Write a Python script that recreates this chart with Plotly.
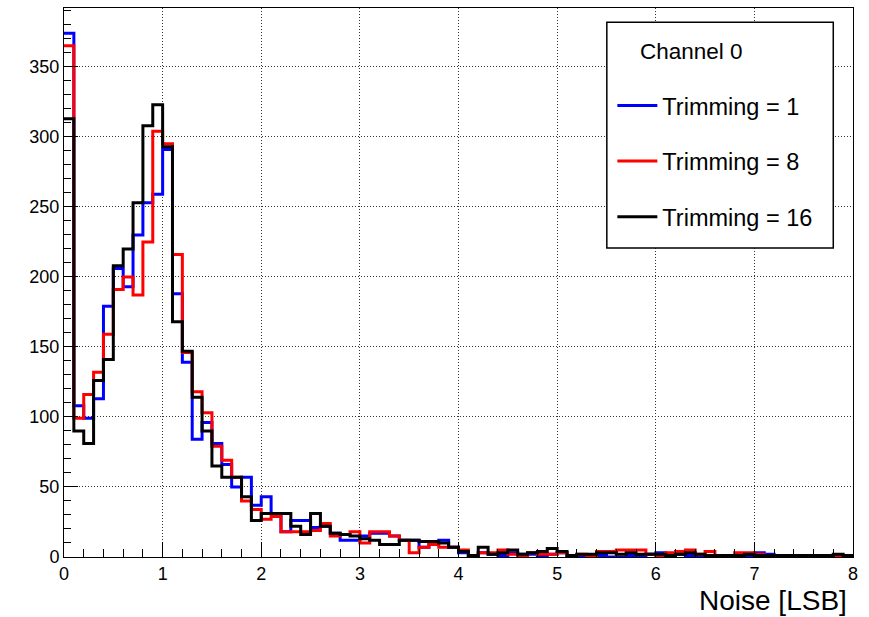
import plotly.graph_objects as go

# ---------------- data ----------------
BIN_WIDTH = 0.1
N_BINS = 80
bin_edges = [round(i * BIN_WIDTH, 2) for i in range(N_BINS + 1)]

trim1 = [374, 108, 99, 113, 179, 206, 193, 230, 253, 259,
         291, 188, 139, 84, 96, 81, 66, 50, 57, 37,
         43, 31, 18, 26, 26, 21, 22, 17, 12, 12,
         15, 17, 17, 15, 12, 12, 7, 10, 12, 7,
         3, 1, 3, 2, 1, 3, 2, 2, 1, 2,
         3, 1, 1, 0, 1, 0, 0, 1, 1, 2,
         3, 1, 2, 1, 0, 0, 0, 1, 1, 1,
         3, 2, 1, 1, 1, 0, 1, 1, 0, 0]

trim8 = [365, 99, 116, 132, 159, 191, 200, 187, 225, 304,
         295, 216, 146, 118, 103, 79, 69, 57, 40, 34,
         27, 29, 18, 18, 18, 19, 24, 15, 16, 18,
         10, 18, 18, 15, 12, 3, 7, 9, 7, 7,
         5, 1, 3, 3, 5, 2, 1, 3, 2, 2,
         3, 1, 2, 1, 4, 4, 5, 5, 5, 2,
         1, 3, 4, 5, 2, 4, 1, 0, 3, 3,
         2, 0, 1, 0, 1, 0, 0, 1, 1, 0]

trim16 = [313, 90, 81, 126, 141, 208, 220, 253, 308, 323,
          293, 168, 147, 114, 90, 65, 57, 57, 43, 26,
          31, 31, 31, 22, 16, 31, 22, 17, 16, 15,
          13, 12, 9, 9, 12, 12, 11, 11, 10, 7,
          4, 1, 7, 2, 3, 5, 2, 3, 4, 6,
          4, 1, 2, 2, 3, 3, 2, 3, 2, 2,
          2, 1, 2, 3, 2, 1, 1, 1, 1, 2,
          1, 1, 1, 1, 1, 1, 1, 1, 2, 1]

series_names = ["Trimming = 1", "Trimming = 8", "Trimming = 16"]
series_values = [trim1, trim8, trim16]
series_colors = ["#0000ff", "#ff0000", "#000000"]

x_ticks = [0, 1, 2, 3, 4, 5, 6, 7, 8]
y_ticks = [0, 50, 100, 150, 200, 250, 300, 350]
legend_title = "Channel 0"
x_title = "Noise [LSB]"

FONT = "Liberation Sans, Arial, Helvetica, sans-serif"

fig = go.Figure()
for name, vals, col in zip(series_names, series_values, series_colors):
    fig.add_trace(go.Scatter(
        x=bin_edges,
        y=vals + [vals[-1]],
        mode="lines",
        line=dict(color=col, width=3, shape="hv"),
        name=name,
        legendgroup=name,
    ))

axis_common = dict(
    showline=True, linecolor="#000000", linewidth=1, mirror=True,
    ticks="inside", tickcolor="#000000",
    showgrid=True, gridcolor="#333333", griddash="1px,2px", gridwidth=1,
    zeroline=False,
    tickfont=dict(family=FONT, size=18, color="#000000"),
)

fig.update_xaxes(
    range=[0, 8], tickvals=x_ticks, ticklen=15,
    minor=dict(dtick=0.2, ticks="inside", ticklen=8, tickcolor="#000000", showgrid=False),
    **axis_common,
)
fig.update_yaxes(
    range=[0, 392], tickvals=y_ticks, ticklen=14,
    minor=dict(dtick=10, ticks="inside", ticklen=7, tickcolor="#000000", showgrid=False),
    **axis_common,
)

# legend box
fig.add_shape(type="rect", xref="paper", yref="paper",
              x0=0.688, x1=0.975, y0=0.563, y1=0.974,
              line=dict(color="#000000", width=1.5), fillcolor="#ffffff", layer="above")
fig.add_annotation(text=legend_title, xref="paper", yref="paper",
                   x=0.727, y=0.921, xanchor="left", yanchor="middle", showarrow=False,
                   font=dict(family=FONT, size=22.5, color="#000000"))
fig.add_annotation(text=x_title, xref="paper", yref="paper",
                   x=0.994, y=-0.0785, xanchor="right", yanchor="middle", showarrow=False,
                   borderpad=0,
                   font=dict(family=FONT, size=28, color="#000000"))

fig.update_layout(
    width=869, height=617,
    margin=dict(l=64, r=16, t=8, b=60),
    paper_bgcolor="#ffffff", plot_bgcolor="#ffffff",
    showlegend=True,
    legend=dict(
        x=0.695, y=0.862, xanchor="left", yanchor="top",
        bgcolor="rgba(0,0,0,0)", borderwidth=0,
        font=dict(family=FONT, size=23.5, color="#000000"),
        traceorder="grouped", tracegroupgap=22, itemwidth=40,
    ),
)

fig.write_html("out.html")
